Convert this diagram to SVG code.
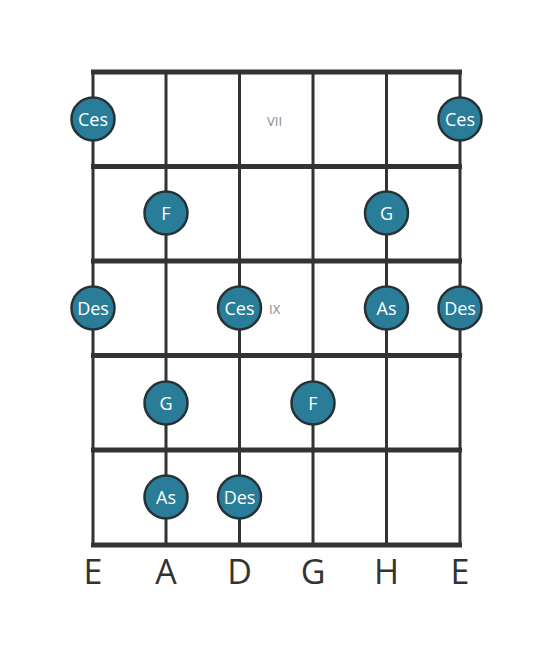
<svg xmlns="http://www.w3.org/2000/svg" width="553" height="656" viewBox="0 0 553 656">
<style>
.s{stroke:#333;stroke-width:3;fill:none}
.f{stroke:#333;stroke-width:5;fill:none}
.n circle{fill:#2a7d98;stroke:#263238;stroke-width:2.5}
.n text{fill:#fff;font-family:"Open Sans","DejaVu Sans",sans-serif;font-size:18px;text-anchor:middle;dominant-baseline:central}
.r{fill:#888;font-family:"Open Sans","DejaVu Sans",sans-serif;font-size:13px;dominant-baseline:central}
.l{fill:#333;font-family:"Open Sans","DejaVu Sans",sans-serif;font-size:34px;text-anchor:middle}
</style>
<rect width="553" height="656" fill="#fff"/>
<g id="connectors">
<line class="s" x1="93" y1="72" x2="93" y2="545"/>
<line class="s" x1="166" y1="72" x2="166" y2="545"/>
<line class="s" x1="239.5" y1="72" x2="239.5" y2="545"/>
<line class="s" x1="313" y1="72" x2="313" y2="545"/>
<line class="s" x1="386.5" y1="72" x2="386.5" y2="545"/>
<line class="s" x1="460" y1="72" x2="460" y2="545"/>
<line class="f" x1="91" y1="72" x2="462" y2="72"/>
<line class="f" x1="91" y1="166.5" x2="462" y2="166.5"/>
<line class="f" x1="91" y1="261" x2="462" y2="261"/>
<line class="f" x1="91" y1="355.5" x2="462" y2="355.5"/>
<line class="f" x1="91" y1="450" x2="462" y2="450"/>
<line class="f" x1="91" y1="545" x2="462" y2="545"/>
</g>
<text class="r" x="267" y="121">VII</text>
<text class="r" x="269" y="309">IX</text>
<g id="n1" class="n"><circle cx="93" cy="119" r="21.5"/><text x="93" y="119">Ces</text></g>
<g id="n2" class="n"><circle cx="460" cy="119" r="21.5"/><text x="460" y="119">Ces</text></g>
<g id="n3" class="n"><circle cx="166" cy="213" r="21.5"/><text x="166" y="213">F</text></g>
<g id="n4" class="n"><circle cx="386.5" cy="213" r="21.5"/><text x="386.5" y="213">G</text></g>
<g id="n5" class="n"><circle cx="93" cy="308" r="21.5"/><text x="93" y="308">Des</text></g>
<g id="n6" class="n"><circle cx="239.5" cy="308" r="21.5"/><text x="239.5" y="308">Ces</text></g>
<g id="n7" class="n"><circle cx="386.5" cy="308" r="21.5"/><text x="386.5" y="308">As</text></g>
<g id="n8" class="n"><circle cx="460" cy="308" r="21.5"/><text x="460" y="308">Des</text></g>
<g id="n9" class="n"><circle cx="166" cy="403" r="21.5"/><text x="166" y="403">G</text></g>
<g id="n10" class="n"><circle cx="313" cy="403" r="21.5"/><text x="313" y="403">F</text></g>
<g id="n11" class="n"><circle cx="166" cy="497" r="21.5"/><text x="166" y="497">As</text></g>
<g id="n12" class="n"><circle cx="239.5" cy="497" r="21.5"/><text x="239.5" y="497">Des</text></g>
<g id="labels">
<text class="l" x="93" y="584">E</text>
<text class="l" x="166" y="584">A</text>
<text class="l" x="239.5" y="584">D</text>
<text class="l" x="313" y="584">G</text>
<text class="l" x="386.5" y="584">H</text>
<text class="l" x="460" y="584">E</text>
</g>
</svg>
